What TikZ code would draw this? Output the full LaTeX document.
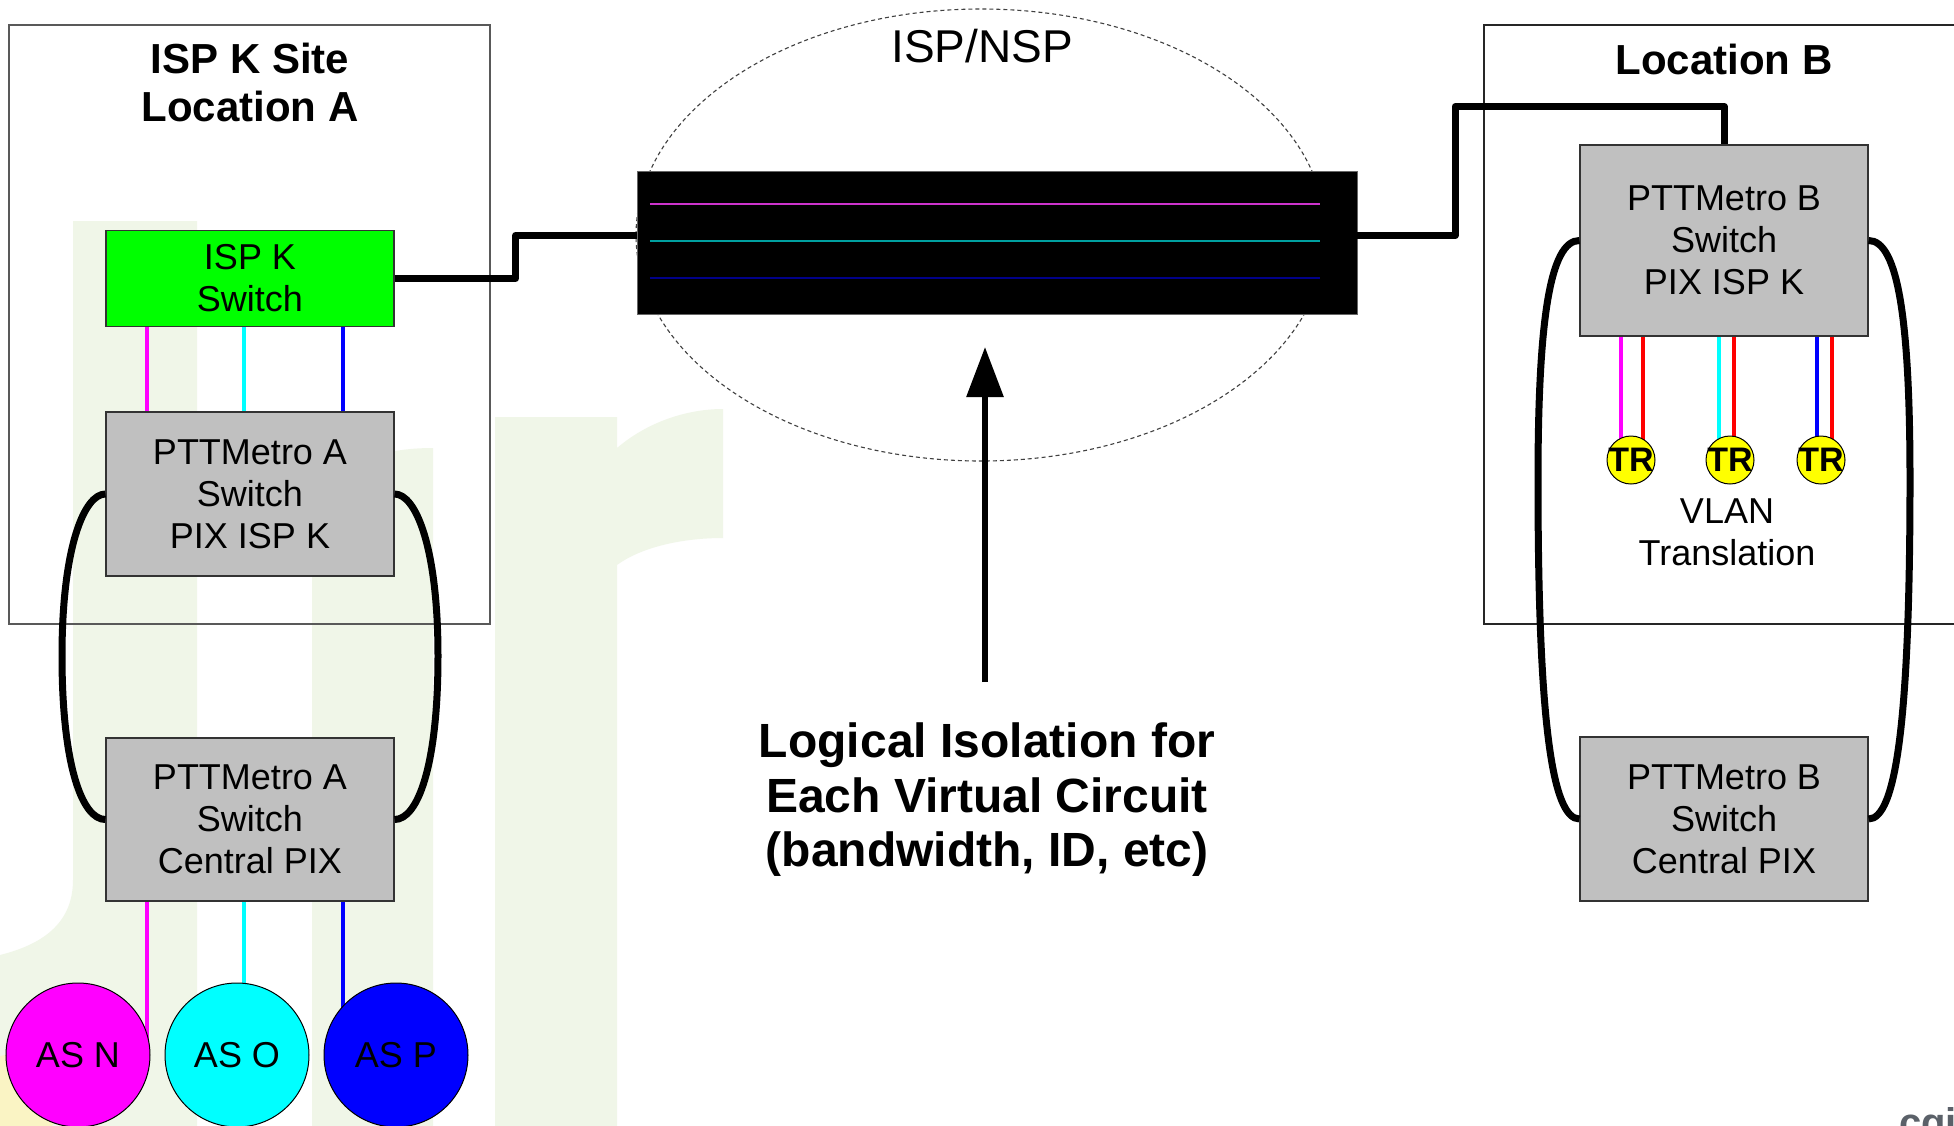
\documentclass[tikz,border=0pt]{standalone}
\usepackage{fontspec}
\setmainfont{Liberation Sans}
\usetikzlibrary{arrows.meta,calc,shapes.geometric}
\pgfdeclarelayer{wm}
\pgfdeclarelayer{links}
\pgfsetlayers{wm,links,main}
\definecolor{wmgreen}{HTML}{F0F6E8}
\definecolor{wmyellow}{HTML}{FAF4C4}
\definecolor{boxgray}{HTML}{C0C0C0}
\definecolor{swgreen}{HTML}{00FF00}
\definecolor{vcmag}{HTML}{CC33CC}
\definecolor{vccyan}{HTML}{00A0A0}
\definecolor{vcblue}{HTML}{000088}
\definecolor{logogray}{HTML}{5B6169}
\definecolor{pmag}{RGB}{255,0,255}
\definecolor{pcyan}{RGB}{0,255,255}
\definecolor{pblue}{RGB}{0,0,255}
\definecolor{pred}{RGB}{255,0,0}
\definecolor{pyellow}{RGB}{255,255,0}
\tikzset{
  swbox/.style={draw=black!80, line width=1.2pt, fill=boxgray, minimum width=288pt, inner sep=0pt, align=center, font=\fontsize{36}{42}\selectfont},
  sitebox/.style={draw=black!65, line width=1.3pt, inner sep=0pt},
  titletext/.style={font=\bfseries\fontsize{42}{48}\selectfont, align=center, inner sep=0pt},
  asnode/.style={circle, draw=black, line width=1pt, minimum size=144pt, inner sep=0pt, font=\fontsize{36}{42}\selectfont},
  trnode/.style={circle, draw=black, line width=1pt, fill=pyellow, minimum size=48pt, inner sep=0pt},
  trtext/.style={font=\bfseries\fontsize{34}{36}\selectfont, inner sep=0pt},
  heavy/.style={line width=7pt, line join=round},
  vlanline/.style={line width=4pt},
  vcline/.style={line width=2pt},
  plaintext/.style={font=\fontsize{36}{42}\selectfont, align=center, inner sep=0pt},
}
\begin{document}
\begin{tikzpicture}[x=1pt,y=-1pt]
\useasboundingbox (0,0) rectangle (1954,1125);
\clip (0,0) rectangle (1954,1125);

% background watermark
\begin{pgfonlayer}{wm}
\fill[white] (0,0) rectangle (1954,1125);
\fill[wmgreen] (73,221) -- (197,221) -- (197,1130) -- (0,1130) -- (0,955) .. controls (40,945) and (73,925) .. (73,880) -- cycle;
\fill[wmgreen] (312,1130) -- (312,530) .. controls (312,478) and (360,448) .. (433,448) -- (433,1130) -- cycle;
\fill[wmgreen] (495,417) -- (617,417) -- (617,448) .. controls (650,420) and (690,409) .. (723,409) -- (723,538) .. controls (680,538) and (640,548) .. (617,565) -- (617,1130) -- (495,1130) -- cycle;
\fill[wmyellow] (14,1100) circle[radius=46pt];
\end{pgfonlayer}

% site frames
\node[sitebox, minimum width=481pt, minimum height=599pt] (siteA) at (249.5,324.5) {};
\node[sitebox, draw=black!85, minimum width=476pt, minimum height=599pt] (siteB) at (1722,324.5) {};
\node[titletext] (titleA) at (250,82) {ISP K Site\\Location A};
\node[titletext] (titleB) at (1724,59) {Location B};

% ISP/NSP cloud
\node[ellipse, draw=black!75, dash pattern=on 4pt off 3pt, line width=1.1pt, minimum width=690pt, minimum height=452pt, inner sep=0pt] (cloud) at (981,235) {};
\node[font=\fontsize{46}{52}\selectfont, inner sep=0pt] (ispnsp) at (982,46) {ISP/NSP};
\node[draw=black!60, fill=black, minimum width=720pt, minimum height=143pt, inner sep=0pt] (core) at (997,242.5) {};
\draw[vcline, vcmag] ($(core.west)+(13,-39)$) -- ($(core.east)+(-37,-39)$);
\draw[vcline, vccyan] ($(core.west)+(13,-2)$) -- ($(core.east)+(-37,-2)$);
\draw[vcline, vcblue] ($(core.west)+(13,35.5)$) -- ($(core.east)+(-37,35.5)$);

% switches
\node[swbox, fill=swgreen, minimum height=96pt] (ispk) at (250,278.5) {ISP K\\Switch};
\node[swbox, minimum height=164pt] (ptaTop) at (250,494) {PTTMetro A\\Switch\\PIX ISP K};
\node[swbox, minimum height=163pt] (ptaBot) at (250,819.5) {PTTMetro A\\Switch\\Central PIX};
\node[swbox, minimum height=191pt] (ptbTop) at (1724,240.5) {PTTMetro B\\Switch\\PIX ISP K};
\node[swbox, minimum height=164pt] (ptbBot) at (1724,819) {PTTMetro B\\Switch\\Central PIX};

% AS circles
\node[asnode, fill=pmag] (asn) at (78,1055) {AS N};
\node[asnode, fill=pcyan] (aso) at (237,1055) {AS O};
\node[asnode, fill=pblue] (asp) at (396,1055) {AS P};

% TR circles
\node[trnode] (tr1) at (1631,460) {};
\node[trnode] (tr2) at (1730,460) {};
\node[trnode] (tr3) at (1821,460) {};
\node[trtext] (tr1t) at (tr1) {TR};
\node[trtext] (tr2t) at (tr2) {TR};
\node[trtext] (tr3t) at (tr3) {TR};
\node[plaintext] (vlanlbl) at (1727,532) {VLAN\\Translation};

% VLAN link coordinates
\coordinate (am) at (147,0);
\coordinate (ac) at (244,0);
\coordinate (ab) at (343,0);
\coordinate (bm1) at (1621,460);
\coordinate (br1) at (1643,460);
\coordinate (bc2) at (1719,460);
\coordinate (br2) at (1734,460);
\coordinate (bb3) at (1817,460);
\coordinate (br3) at (1832,460);

\draw[vlanline, pmag] (am |- ispk.south) -- (am |- ptaTop.north);
\draw[vlanline, pcyan] (ac |- ispk.south) -- (ac |- ptaTop.north);
\draw[vlanline, pblue] (ab |- ispk.south) -- (ab |- ptaTop.north);

\begin{pgfonlayer}{links}
\draw[vlanline, pmag] (am |- ptaBot.south) -- (am |- asn.center);
\draw[vlanline, pcyan] (ac |- ptaBot.south) -- (ac |- aso.center);
\draw[vlanline, pblue] (ab |- ptaBot.south) -- (ab |- asp.center);
\draw[vlanline, pmag] (bm1 |- ptbTop.south) -- (bm1);
\draw[vlanline, pred] (br1 |- ptbTop.south) -- (br1);
\draw[vlanline, pcyan] (bc2 |- ptbTop.south) -- (bc2);
\draw[vlanline, pred] (br2 |- ptbTop.south) -- (br2);
\draw[vlanline, pblue] (bb3 |- ptbTop.south) -- (bb3);
\draw[vlanline, pred] (br3 |- ptbTop.south) -- (br3);
\end{pgfonlayer}

% heavy trunks
\draw[heavy] (ispk.east) -- ++(121,0) |- ([yshift=7pt]core.west);
\draw[heavy] ([yshift=7pt]core.east) -- ++(98,0) |- ($(ptbTop.north)+(0,-38)$) -- (ptbTop.north);

% loops
\draw[heavy] (ptaTop.west) .. controls (84,494) and (62,548) .. (62,656) .. controls (62,765) and (82,819.5) .. (ptaBot.west);
\draw[heavy] (ptaTop.east) .. controls (416,494) and (438,548) .. (438,656) .. controls (438,765) and (418,819.5) .. (ptaBot.east);
\draw[heavy] (ptbTop.west) .. controls (1550,240.5) and (1538,320) .. (1538,480) .. controls (1538,720) and (1552,819) .. (ptbBot.west);
\draw[heavy] (ptbTop.east) .. controls (1898,240.5) and (1910,320) .. (1910,480) .. controls (1910,720) and (1896,819) .. (ptbBot.east);

% logical isolation
\node[font=\bfseries\fontsize{48}{54.5}\selectfont, align=center, inner sep=0pt] (logical) at (987,800) {Logical Isolation for\\Each Virtual Circuit\\(bandwidth, ID, etc)};
\coordinate (arrtail) at (985,682);
\coordinate (arrtip) at (985,347);
\draw[line width=6pt, -{Triangle[length=50pt,width=36pt]}] (arrtail) -- (arrtip);

% partial logo text (cut by the page edge, as in the reference)
\node[font=\bfseries\fontsize{40}{40}\selectfont, text=logogray, anchor=base west, inner sep=0pt] (logo) at (1899,1136) {cgi};
\end{tikzpicture}
\end{document}
